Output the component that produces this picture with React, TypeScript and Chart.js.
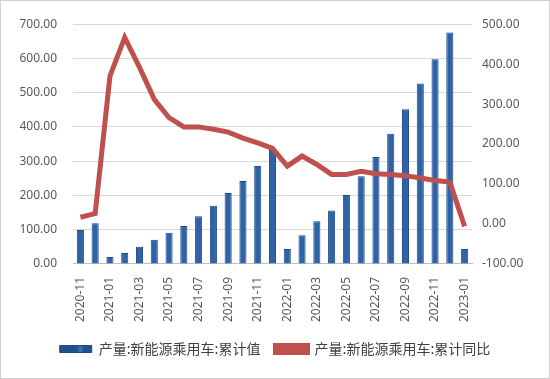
import React, { useEffect, useRef } from "react";
import { Chart, registerables } from "chart.js";

Chart.register(...registerables);

const months = [
  "2020-11", "2020-12", "2021-01", "2021-02", "2021-03", "2021-04", "2021-05", "2021-06", "2021-07",
  "2021-08", "2021-09", "2021-10", "2021-11", "2021-12", "2022-01", "2022-02", "2022-03", "2022-04",
  "2022-05", "2022-06", "2022-07", "2022-08", "2022-09", "2022-10", "2022-11", "2022-12", "2023-01",
];
const cumulativeValues = [
  99, 119, 20, 32, 50, 71, 91, 111, 139, 170, 207, 242, 286, 336,
  44, 84, 125, 156, 201, 256, 312, 380, 452, 527, 598, 676, 44,
];
const yoyValues = [
  17, 26, 370, 467, 392, 312, 266, 243, 243, 237, 230, 215, 203, 189,
  145, 170, 149, 124, 124, 132, 126, 124, 121, 115, 109, 105, -6,
];
const barLabel = "产量:新能源乘用车:累计值";
const lineLabel = "产量:新能源乘用车:累计同比";

export default function App() {
  const ref = useRef<HTMLCanvasElement>(null);
  useEffect(() => {
    const canvas = ref.current!;
    const tickFont = { family: "'Noto Sans', 'DejaVu Sans', sans-serif", size: 12 };
    const chart = new Chart(canvas, {
      data: {
        labels: months,
        datasets: [
          {
            type: "line" as const,
            label: lineLabel,
            data: yoyValues,
            yAxisID: "y1",
            borderColor: "#c0504d",
            backgroundColor: "#c0504d",
            borderWidth: 5,
            pointRadius: 0,
            tension: 0,
            order: 0,
          },
          {
            type: "bar" as const,
            label: barLabel,
            data: cumulativeValues,
            yAxisID: "y",
            backgroundColor: (ctx: any) => {
              const c = ctx.chart.ctx;
              const el = ctx.element;
              if (!el || !isFinite(el.x) || !el.width) return "#2f63a8";
              const g = c.createLinearGradient(el.x - el.width / 2, 0, el.x + el.width / 2, 0);
              g.addColorStop(0, "#234f8c");
              g.addColorStop(0.5, "#3d74bd");
              g.addColorStop(1, "#234f8c");
              return g;
            },
            borderColor: "#1f4a85",
            borderWidth: 1,
            barPercentage: 0.48,
            categoryPercentage: 1,
            order: 1,
          },
        ],
      },
      options: {
        animation: false,
        responsive: false,
        maintainAspectRatio: false,
        layout: { padding: { top: 12, bottom: 12, left: 0, right: 0 } },
        plugins: {
          tooltip: { enabled: false },
          legend: {
            position: "bottom",
            reverse: true,
            labels: {
              boxWidth: 32,
              boxHeight: 7,
              color: "#404040",
              font: { family: "'Noto Sans CJK SC', sans-serif", size: 14 },
              padding: 15,
            },
          },
        },
        scales: {
          x: {
            grid: { display: false },
            border: { color: "#bfbfbf" },
            ticks: {
              color: "#595959",
              font: tickFont,
              autoSkip: false,
              maxRotation: 90,
              minRotation: 90,
              padding: 5,
              callback: (_v: any, i: number) => (i % 2 === 0 ? months[i] : ""),
            },
          },
          y: {
            position: "left",
            min: 0,
            max: 700,
            afterFit: (s: any) => { s.width = 72; },
            grid: { color: "#d9d9d9", drawTicks: false },
            border: { display: false },
            ticks: {
              stepSize: 100,
              color: "#595959",
              font: tickFont,
              padding: 16,
              callback: (v: any) => Number(v).toFixed(2),
            },
          },
          y1: {
            position: "right",
            min: -100,
            max: 500,
            afterFit: (s: any) => { s.width = 77; },
            grid: { display: false, drawTicks: false },
            border: { display: false },
            ticks: {
              stepSize: 100,
              color: "#595959",
              font: tickFont,
              padding: 10,
              callback: (v: any) => Number(v).toFixed(2),
            },
          },
        },
      },
    } as any);
    return () => chart.destroy();
  }, []);
  return (
    <div
      style={{
        position: "absolute",
        left: 0,
        top: 0,
        width: 550,
        height: 379,
        boxSizing: "border-box",
        border: "1px solid #d0d0d0",
        background: "#fff",
      }}
    >
      <canvas ref={ref} width={548} height={377} />
    </div>
  );
}
